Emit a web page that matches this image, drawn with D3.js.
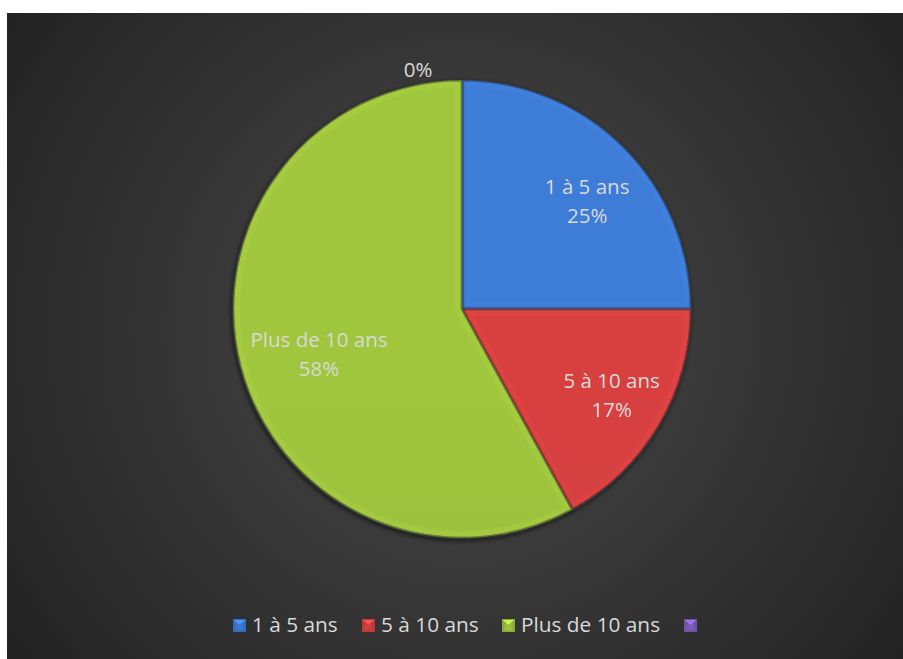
<!DOCTYPE html>
<html><head><meta charset="utf-8">
<script src="https://cdn.jsdelivr.net/npm/d3@7"></script>
<style>html,body{margin:0;padding:0;background:#fff;}svg{display:block;}</style>
</head><body>
<svg id="chart" width="903" height="659"></svg>
<script>
const categories = ["1 à 5 ans", "5 à 10 ans", "Plus de 10 ans", ""];
const values = [25, 17, 58, 0];
const percentLabels = ["25%", "17%", "58%", "0%"];
const colors = ["#3b78cf", "#d03f3f", "#9abf3c", "#7a5cb8"];

const svg = d3.select("#chart");
const W = 903, H = 659;
const defs = svg.append("defs");
const FONT = "'Open Sans', 'Noto Sans', sans-serif";

const bg = defs.append("radialGradient").attr("id","bg")
  .attr("gradientUnits","userSpaceOnUse").attr("cx",462).attr("cy",330).attr("r",560);
bg.append("stop").attr("offset","0").attr("stop-color","#4a4a4a");
bg.append("stop").attr("offset","1").attr("stop-color","#222222");

svg.append("rect").attr("x",7).attr("y",13).attr("width",W-7).attr("height",H-13).attr("fill","url(#bg)");

const cx = 462, cy = 309, R = 229;
const pie = d3.pie().sort(null).value(d => d.v).startAngle(0).endAngle(2*Math.PI);
const data = categories.map((c,i)=>({c, v: values[i], p: percentLabels[i], col: colors[i]}));
const arcs = pie(data);

const arc = d3.arc().innerRadius(0).outerRadius(R);
const labelArc = d3.arc().innerRadius(160).outerRadius(160);

colors.forEach((col,i)=>{
  const c = d3.color(col);
  const lg = defs.append("linearGradient").attr("id","fill"+i)
    .attr("gradientUnits","userSpaceOnUse").attr("x1",0).attr("y1",cy-R).attr("x2",0).attr("y2",cy+R);
  lg.append("stop").attr("offset",0).attr("stop-color", c.brighter(0.1));
  lg.append("stop").attr("offset",1).attr("stop-color", c.darker(0.1));
});

const shadow = defs.append("filter").attr("id","sh").attr("x","-20%").attr("y","-20%").attr("width","140%").attr("height","140%");
shadow.append("feDropShadow").attr("dx",-1).attr("dy",2).attr("stdDeviation",2).attr("flood-color","#000").attr("flood-opacity",0.55);

const g = svg.append("g").attr("transform",`translate(${cx},${cy})`);
const shown = arcs.filter(d=>d.data.v>0);
shown.forEach(d=>{
  defs.append("clipPath").attr("id","clip"+d.index)
    .append("path").attr("transform",`translate(${cx},${cy})`).attr("d",arc(d));
});
const sl = g.selectAll("g.slice").data(shown).join("g").attr("class","slice")
  .attr("filter","url(#sh)");
sl.append("path").attr("d",arc).attr("fill",(d)=>`url(#fill${d.index})`)
  .attr("stroke","#333").attr("stroke-width",2.5).attr("stroke-linejoin","round");
// bevel: inner lighter band along all edges (clipped)
const bev = svg.append("g");
shown.forEach(d=>{
  const c = d3.color(d.data.col);
  const gg = bev.append("g").attr("clip-path",`url(#clip${d.index})`);
  gg.append("path").attr("transform",`translate(${cx},${cy})`).attr("d",arc(d))
    .attr("fill","none").attr("stroke",c.brighter(0.5)).attr("stroke-opacity",0.22).attr("stroke-width",14).attr("stroke-linejoin","round");
  gg.append("path").attr("transform",`translate(${cx},${cy})`).attr("d",arc(d))
    .attr("fill","none").attr("stroke",c.darker(0.7)).attr("stroke-opacity",0.6).attr("stroke-width",2.5).attr("stroke-linejoin","round");
});

// labels
const lab = svg.append("g").attr("font-family",FONT)
  .attr("font-size",20.5).attr("fill","#d9d9d9").attr("text-anchor","middle");
arcs.forEach(d=>{
  if (d.data.v > 0) {
    const [x,y] = labelArc.centroid(d);
    const lx = cx + x + 12, ly = cy + y - 2;
    const t = lab.append("text");
    t.append("tspan").attr("x",lx).attr("y",ly).text(d.data.c);
    t.append("tspan").attr("x",lx).attr("y",ly+29).text(d.data.p);
  } else {
    const a = d.startAngle;
    const px = cx + Math.sin(a)*R - 44, py = cy - Math.cos(a)*R - 3;
    lab.append("text").attr("x",px).attr("y",py).text(d.data.p);
  }
});

// legend
const legend = svg.append("g").attr("font-family",FONT)
  .attr("font-size",20.8).attr("fill","#d9d9d9");
const legX = [233, 362, 502, 684];
data.forEach((d,i)=>{
  const lgG = legend.append("g").attr("transform",`translate(${legX[i]},619)`);
  const c = d3.color(d.col);
  lgG.append("rect").attr("width",13).attr("height",13).attr("fill",c.darker(0.3));
  lgG.append("path").attr("d","M1,1 L12,1 L6.5,6.5 Z").attr("fill",c.brighter(0.7));
  lgG.append("rect").attr("x",2.5).attr("y",5.5).attr("width",8).attr("height",6).attr("fill",d.col);
  if (d.c) lgG.append("text").attr("x",19).attr("y",13).text(d.c);
});
</script>
</body></html>
